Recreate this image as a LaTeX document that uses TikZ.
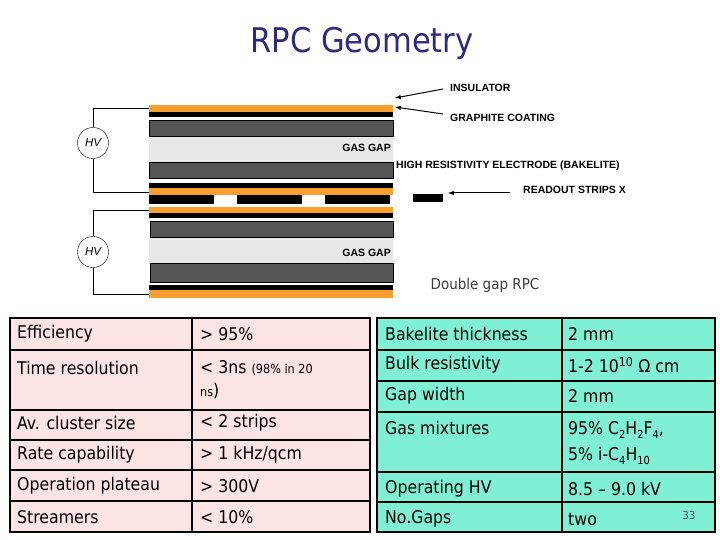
\documentclass[tikz,border=0pt]{standalone}
\usepackage{fontspec}
\setmainfont{DejaVu Sans Condensed}
\newfontfamily\lab{Liberation Sans}
\newcommand\mysb[1]{\raisebox{-0.45ex}{\fontsize{11}{12}\selectfont #1}}
\begin{document}
\begin{tikzpicture}[x=1pt,y=-1pt,
  orange/.style={fill={rgb,255:red,247;green,160;blue,48}},
  blk/.style={fill=black},
  elec/.style={fill={rgb,255:red,85;green,85;blue,85},draw=black,line width=0.6pt},
  gas/.style={fill={rgb,255:red,232;green,232;blue,232}},
  lbl/.style={font=\lab\bfseries\fontsize{10.5}{12}\selectfont,inner sep=0pt,anchor=west},
  arr/.style={-latex,line width=1pt},
  hv/.style={circle,draw,minimum size=31pt,inner sep=0pt,font=\lab\itshape\fontsize{11.5}{12}\selectfont,fill=white},
  cellL/.style={fill={rgb,255:red,253;green,228;blue,228},draw=black,line width=1.2pt},
  cellR/.style={fill={rgb,255:red,127;green,240;blue,212},draw=black,line width=1.2pt},
  tx/.style={anchor=west,inner sep=0pt,font=\fontsize{17.5}{20}\selectfont}]
\useasboundingbox (0,0) rectangle (720,540);
\node[text={rgb,255:red,43;green,43;blue,127},font=\fontsize{34}{38}\selectfont] (title) at (362,43) {RPC Geometry};
% top chamber
\fill[orange] (149,105) rectangle (393,112);
\fill[blk] (149,112) rectangle (393,117);
\fill[gas] (149,136) rectangle (393,162);
\draw[elec] (149,120) rectangle (393,136);
\draw[elec] (149,162) rectangle (393,178);
\fill[blk] (149,183) rectangle (393,188);
\fill[orange] (149,188) rectangle (393,195);
% strips
\fill[blk] (149,195) rectangle (214,204);
\fill[blk] (237,195) rectangle (302,204);
\fill[blk] (325,195) rectangle (390,204);
\fill[blk] (413,194) rectangle (443,202);
% bottom chamber
\fill[orange] (149,207) rectangle (393,213);
\fill[blk] (149,213) rectangle (393,218);
\fill[gas] (149,237) rectangle (393,263);
\draw[elec] (150,221) rectangle (393,237);
\draw[elec] (150,263) rectangle (393,282);
\fill[blk] (149,285) rectangle (393,290);
\fill[orange] (149,290) rectangle (393,298);
% HV
\node[hv] (hv1) at (93,143) {HV};
\node[hv] (hv2) at (93,252) {HV};
\coordinate (a1) at (149,108); \coordinate (b1) at (149,192);
\coordinate (a2) at (149,210); \coordinate (b2) at (149,294);
\draw (a1) -| (hv1.north); \draw (hv1.south) |- (b1);
\draw (a2) -| (hv2.north); \draw (hv2.south) |- (b2);
% labels
\node[lbl,anchor=east] (g1) at (391,148) {GAS GAP};
\node[lbl,anchor=east] (g2) at (391,253) {GAS GAP};
\node[lbl] (ins) at (450,88) {INSULATOR};
\node[lbl] (gr) at (450,118) {GRAPHITE COATING};
\node[lbl] (hr) at (396,166) {HIGH RESISTIVITY ELECTRODE (BAKELITE)};
\node[lbl] (ro) at (523,190) {READOUT STRIPS X};
\coordinate (ia) at (395,98); \coordinate (ga) at (395,107); \coordinate (ra) at (448,193);
\draw[arr] (443,89) -- (ia);
\draw[arr] (443,114) -- (ga);
\draw[arr] (510,193) -- (ra);
\node[font=\fontsize{15}{17}\selectfont,text={rgb,255:red,60;green,60;blue,60}] (dg) at (485,285) {Double gap RPC};
% left table
\foreach \ya/\yb in {318/350,350/410,410/440,440/470,470/501,501/532}{
  \draw[cellL] (10,\ya) rectangle (192,\yb);
  \draw[cellL] (192,\ya) rectangle (370,\yb);}
\node[tx] (l1) at (17,334) {Efficiency};
\node[tx] (l2) at (17,368) {Time resolution};
\node[tx] (l3) at (17,423) {Av. cluster size};
\node[tx] (l4) at (17,455) {Rate capability};
\node[tx] (l5) at (17,486) {Operation plateau};
\node[tx] (l6) at (17,517) {Streamers};
\node[tx] (v1) at (200,334) {> 95\%};
\node[tx] (v2) at (200,368) {< 3ns {\fontsize{12.5}{14}\selectfont (98\% in 20}};
\node[tx] (v2b) at (200,391) {{\fontsize{12.5}{14}\selectfont ns})};
\node[tx] (v3) at (200,423) {< 2 strips};
\node[tx] (v4) at (200,455) {> 1 kHz/qcm};
\node[tx] (v5) at (200,486) {> 300V};
\node[tx] (v6) at (200,517) {< 10\%};
% right table
\foreach \ya/\yb in {318/350,350/381,381/412,412/472,472/502,502/532}{
  \draw[cellR] (377,\ya) rectangle (562,\yb);
  \draw[cellR] (562,\ya) rectangle (715,\yb);}
\node[tx] (r1) at (385,334) {Bakelite thickness};
\node[tx] (r2) at (385,365) {Bulk resistivity};
\node[tx] (r3) at (385,396) {Gap width};
\node[tx] (r4) at (385,428) {Gas mixtures};
\node[tx] (r5) at (385,489) {Operating HV};
\node[tx] (r6) at (385,519) {No.Gaps};
\node[tx] (w1) at (568,334) {2 mm};
\node[tx] (w2) at (568,365) {1-2 10\textsuperscript{10} Ω cm};
\node[tx] (w3) at (568,396) {2 mm};
\node[tx] (w4) at (568,430) {95\% C\mysb{2}H\mysb{2}F\mysb{4},};
\node[tx] (w4b) at (568,456) {5\% i-C\mysb{4}H\mysb{10}};
\node[tx] (w5) at (568,489) {8.5 – 9.0 kV};
\node[tx] (w6) at (568,519) {two};
\node[font=\fontsize{11}{12}\selectfont,text=gray!60!black] (pg) at (689,515) {33};
\end{tikzpicture}
\end{document}
